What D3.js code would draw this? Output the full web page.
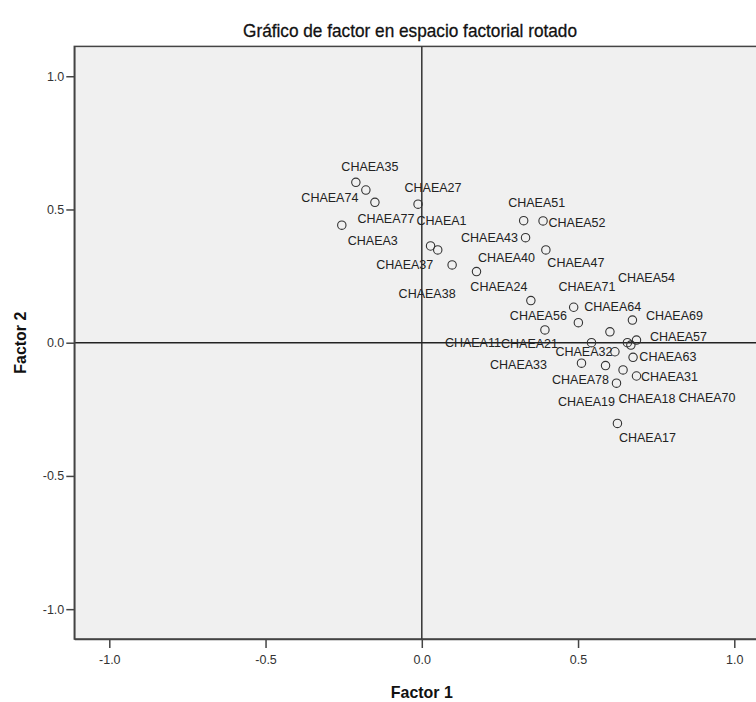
<!DOCTYPE html>
<html>
<head>
<meta charset="utf-8">
<script src="https://cdn.jsdelivr.net/npm/d3@7"></script>
<style>
  body { margin: 0; background: #fff; }
  text { font-family: "Liberation Sans", Arial, sans-serif; }
</style>
</head>
<body>
<div id="chart"></div>
<script>
// variable names
var names = ["CHAEA35", "CHAEA74", "CHAEA77", "CHAEA3", "CHAEA27", "CHAEA1", "CHAEA37", "CHAEA38",
  "CHAEA51", "CHAEA52", "CHAEA43", "CHAEA47", "CHAEA40", "CHAEA24", "CHAEA64", "CHAEA56",
  "CHAEA69", "CHAEA11", "CHAEA71", "CHAEA21", "CHAEA54", "CHAEA63", "CHAEA57", "CHAEA32",
  "CHAEA70", "CHAEA33", "CHAEA78", "CHAEA18", "CHAEA31", "CHAEA19", "CHAEA17"];

// rotated loadings
var factor1 = [-0.211, -0.179, -0.150, -0.256, -0.012, 0.028, 0.051, 0.097,
  0.326, 0.388, 0.332, 0.397, 0.175, 0.349, 0.486, 0.501,
  0.674, 0.394, 0.602, 0.543, 0.658, 0.669, 0.687, 0.618,
  0.676, 0.511, 0.588, 0.644, 0.687, 0.623, 0.626];
var factor2 = [0.602, 0.573, 0.527, 0.441, 0.520, 0.363, 0.348, 0.292,
  0.458, 0.457, 0.394, 0.348, 0.267, 0.158, 0.133, 0.075,
  0.085, 0.048, 0.041, 0.000, 0.000, -0.009, 0.010, -0.034,
  -0.055, -0.077, -0.086, -0.102, -0.125, -0.152, -0.303];

var ticks = [-1.0, -0.5, 0.0, 0.5, 1.0];
var tickLabels = ["-1.0", "-0.5", "0.0", "0.5", "1.0"];

// label offsets in px (layout only)
var labelDx = [14, -36, 11, 31, 15, 11, -33, -25, 13, 34, -36, 30, 30, -32, 39, -40,
  42, -72, -23, -62, 19, 37, 42, -31, 74, -63, -25, 24, 33, -30, 30];
var labelDy = [-16, 8, 16, 15, -17, -25, 15, 29, -18, 2, 0, 13, -14, -14, -1, -7,
  -4, 13, -45, 1, -65, 12, -3, 0, 40, 1, 14, 29, 1, 18, 14];

var data = names.map(function (n, i) {
  return {name: n, f1: factor1[i], f2: factor2[i], dx: labelDx[i], dy: labelDy[i]};
});

var width = 756, height = 702;

var svg = d3.select("#chart")
  .append("svg")
    .attr("width", width)
    .attr("height", height);

var x = d3.scaleLinear()
  .domain([-1.112, 1.112])
  .range([74.3, 769.3]);

var y = d3.scaleLinear()
  .domain([-1.112, 1.112])
  .range([639, 46.4]);

var fmt = function (d) { return tickLabels[ticks.indexOf(d)]; };

// plot background
svg.append("rect")
  .attr("x", x(-1.112))
  .attr("y", y(1.112))
  .attr("width", x(1.112) - x(-1.112))
  .attr("height", y(-1.112) - y(1.112))
  .style("fill", "#f0f0f0")
  .style("stroke", "#444")
  .style("stroke-width", 1.5);

// reference lines at zero
svg.append("line")
  .attr("x1", x(0)).attr("x2", x(0))
  .attr("y1", y(1.112)).attr("y2", y(-1.112))
  .style("stroke", "#333").style("stroke-width", 1.5);
svg.append("line")
  .attr("x1", x(-1.112)).attr("x2", x(1.112))
  .attr("y1", y(0)).attr("y2", y(0))
  .style("stroke", "#222").style("stroke-width", 1.5);

// axes
var xAxis = svg.append("g")
  .attr("transform", "translate(0," + y(-1.112) + ")")
  .call(d3.axisBottom(x).tickValues(ticks).tickFormat(fmt).tickSize(9).tickSizeOuter(0));
var yAxis = svg.append("g")
  .attr("transform", "translate(" + x(-1.112) + ",0)")
  .call(d3.axisLeft(y).tickValues(ticks).tickFormat(fmt).tickSize(8).tickSizeOuter(0));

[xAxis, yAxis].forEach(function (g) {
  g.select(".domain").style("stroke", "#444").style("stroke-width", 1.5);
  g.selectAll(".tick line").style("stroke", "#444").style("stroke-width", 1.5);
  g.selectAll(".tick text")
    .style("font-family", "'Liberation Sans', sans-serif")
    .style("font-size", "12.5px")
    .style("fill", "#333");
});
xAxis.selectAll(".tick text").attr("y", 16);
yAxis.selectAll(".tick text").attr("x", -10);

// points
svg.append("g")
  .selectAll("circle")
  .data(data)
  .enter()
  .append("circle")
    .attr("cx", function (d) { return x(d.f1); })
    .attr("cy", function (d) { return y(d.f2); })
    .attr("r", 4.2)
    .style("fill", "none")
    .style("stroke", "#333")
    .style("stroke-width", 1.1);

// point labels
svg.append("g")
  .selectAll("text")
  .data(data)
  .enter()
  .append("text")
    .attr("x", function (d) { return x(d.f1) + d.dx; })
    .attr("y", function (d) { return y(d.f2) + d.dy; })
    .attr("dy", "0.35em")
    .attr("text-anchor", "middle")
    .style("font-size", "12.5px")
    .style("fill", "#222")
    .text(function (d) { return d.name; });

// title
svg.append("text")
  .attr("x", 410)
  .attr("y", 37)
  .attr("text-anchor", "middle")
  .attr("textLength", 334)
  .attr("lengthAdjust", "spacingAndGlyphs")
  .style("font-size", "19px")
  .style("fill", "#111")
  .style("stroke", "#111")
  .style("stroke-width", 0.3)
  .text("Gráfico de factor en espacio factorial rotado");

// axis titles
svg.append("text")
  .attr("x", x(0))
  .attr("y", 698)
  .attr("text-anchor", "middle")
  .attr("textLength", 62)
  .attr("lengthAdjust", "spacingAndGlyphs")
  .style("font-size", "17px")
  .style("font-weight", "bold")
  .style("fill", "#111")
  .text("Factor 1");

svg.append("text")
  .attr("transform", "translate(26," + y(0) + ") rotate(-90)")
  .attr("text-anchor", "middle")
  .attr("textLength", 62)
  .attr("lengthAdjust", "spacingAndGlyphs")
  .style("font-size", "17px")
  .style("font-weight", "bold")
  .style("fill", "#111")
  .text("Factor 2");
</script>
</body>
</html>
